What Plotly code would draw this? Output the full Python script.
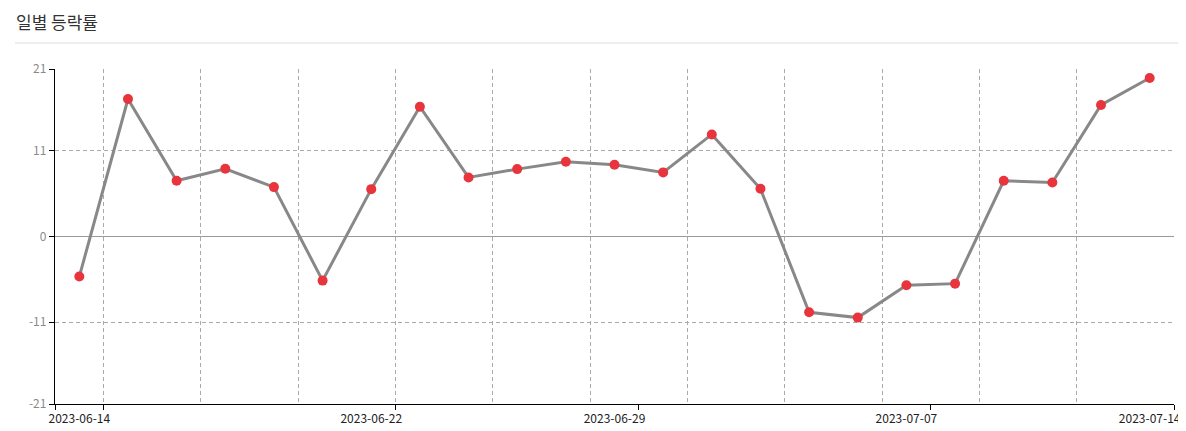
import plotly.graph_objects as go

dates = ["2023-06-14", "2023-06-15", "2023-06-16", "2023-06-19", "2023-06-20",
         "2023-06-21", "2023-06-22", "2023-06-23", "2023-06-26", "2023-06-27",
         "2023-06-28", "2023-06-29", "2023-06-30", "2023-07-03", "2023-07-04",
         "2023-07-05", "2023-07-06", "2023-07-07", "2023-07-10", "2023-07-11",
         "2023-07-12", "2023-07-13", "2023-07-14"]
rates = [-5.14, 17.65, 7.15, 8.69, 6.34, -5.66, 6.08, 16.66, 7.58, 8.65,
         9.59, 9.2, 8.23, 13.1, 6.12, -9.73, -10.41, -6.26, -6.05, 7.15,
         6.94, 16.88, 20.35]
shown_labels = ["2023-06-14", "2023-06-22", "2023-06-29", "2023-07-07", "2023-07-14"]
y_tick_vals = [-21.5, -11, 0, 11, 21.5]
y_tick_text = ["-21", "-11", "0", "11", "21"]
title_text = "일별 등락률"

# page has an 8px body margin; figure sized to fit the window without scrolling
OFF = 8
W, H = 1186 - OFF, 431 - OFF
L, R, T, B = 55 - OFF, 12, 69 - OFF, 27

n = len(dates)
idx = list(range(n))
label_idx = [dates.index(d) for d in shown_labels]
grid_vals = [i + 0.5 for i in range(0, n - 1, 2)]
tick_mark_vals = [-0.5] + [i + 0.5 for i in label_idx]

font = "Noto Sans CJK KR, Noto Sans, sans-serif"

fig = go.Figure()
fig.add_trace(go.Scatter(
    x=idx, y=rates, mode="lines+markers",
    line=dict(color="#888888", width=3),
    marker=dict(color="#e8353d", size=10),
    hoverinfo="skip", showlegend=False,
))

xr = [-0.5, n - 0.5]
fig.update_layout(
    width=W, height=H,
    margin=dict(l=L, r=R, t=T, b=B, autoexpand=False),
    paper_bgcolor="white", plot_bgcolor="white",
    font=dict(family=font, size=12, color="#333333"),
    showlegend=False,
    xaxis=dict(range=xr, tickvals=grid_vals, showticklabels=False, ticks="",
               showgrid=True, gridcolor="#aaaaaa", gridwidth=1, griddash="4px,3px",
               showline=True, linecolor="#000000", linewidth=1.3, zeroline=False,
               fixedrange=True, automargin=False),
    xaxis2=dict(range=xr, overlaying="x", anchor="y", side="bottom",
                tickvals=label_idx, ticktext=shown_labels, ticks="",
                showgrid=False, showline=False, zeroline=False, automargin=False,
                tickfont=dict(size=12, color="#222222"), ticklabelstandoff=6),
    xaxis3=dict(range=xr, overlaying="x", anchor="y", side="bottom",
                tickvals=tick_mark_vals, showticklabels=False, ticks="outside",
                ticklen=5, tickcolor="#000000", tickwidth=1.3, automargin=False,
                showgrid=False, showline=False, zeroline=False),
    yaxis=dict(range=[y_tick_vals[0], y_tick_vals[-1]], tickvals=y_tick_vals,
               ticktext=y_tick_text, ticks="outside", ticklen=5,
               tickcolor="#000000", tickwidth=1.3, automargin=False,
               showgrid=True, gridcolor="#aaaaaa", gridwidth=1, griddash="4px,3px",
               zeroline=True, zerolinecolor="#999999", zerolinewidth=1,
               showline=True, linecolor="#000000", linewidth=1.3,
               tickfont=dict(size=12, color="#8a8a8a"), fixedrange=True),
)

# invisible traces to activate overlay axes
fig.add_trace(go.Scatter(x=[None], y=[None], xaxis="x2", showlegend=False, hoverinfo="skip"))
fig.add_trace(go.Scatter(x=[None], y=[None], xaxis="x3", showlegend=False, hoverinfo="skip"))

pw = W - L - R
ph = H - T - B

# title as annotation, kept inside the figure
fig.add_annotation(text=title_text, xref="paper", yref="paper",
                   x=(15 - OFF - L) / pw, xanchor="left",
                   y=(H - B) / ph, yanchor="top", showarrow=False,
                   borderpad=0,
                   font=dict(size=17, color="#333333", family=font))

# separator under the title
sep_y = 43 - OFF
fig.add_shape(type="line", xref="paper", yref="paper",
              x0=(15 - OFF - L) / pw, x1=(W - L) / pw,
              y0=(H - B - sep_y) / ph, y1=(H - B - sep_y) / ph,
              line=dict(color="#dddddd", width=1))

fig.write_html("out.html")
